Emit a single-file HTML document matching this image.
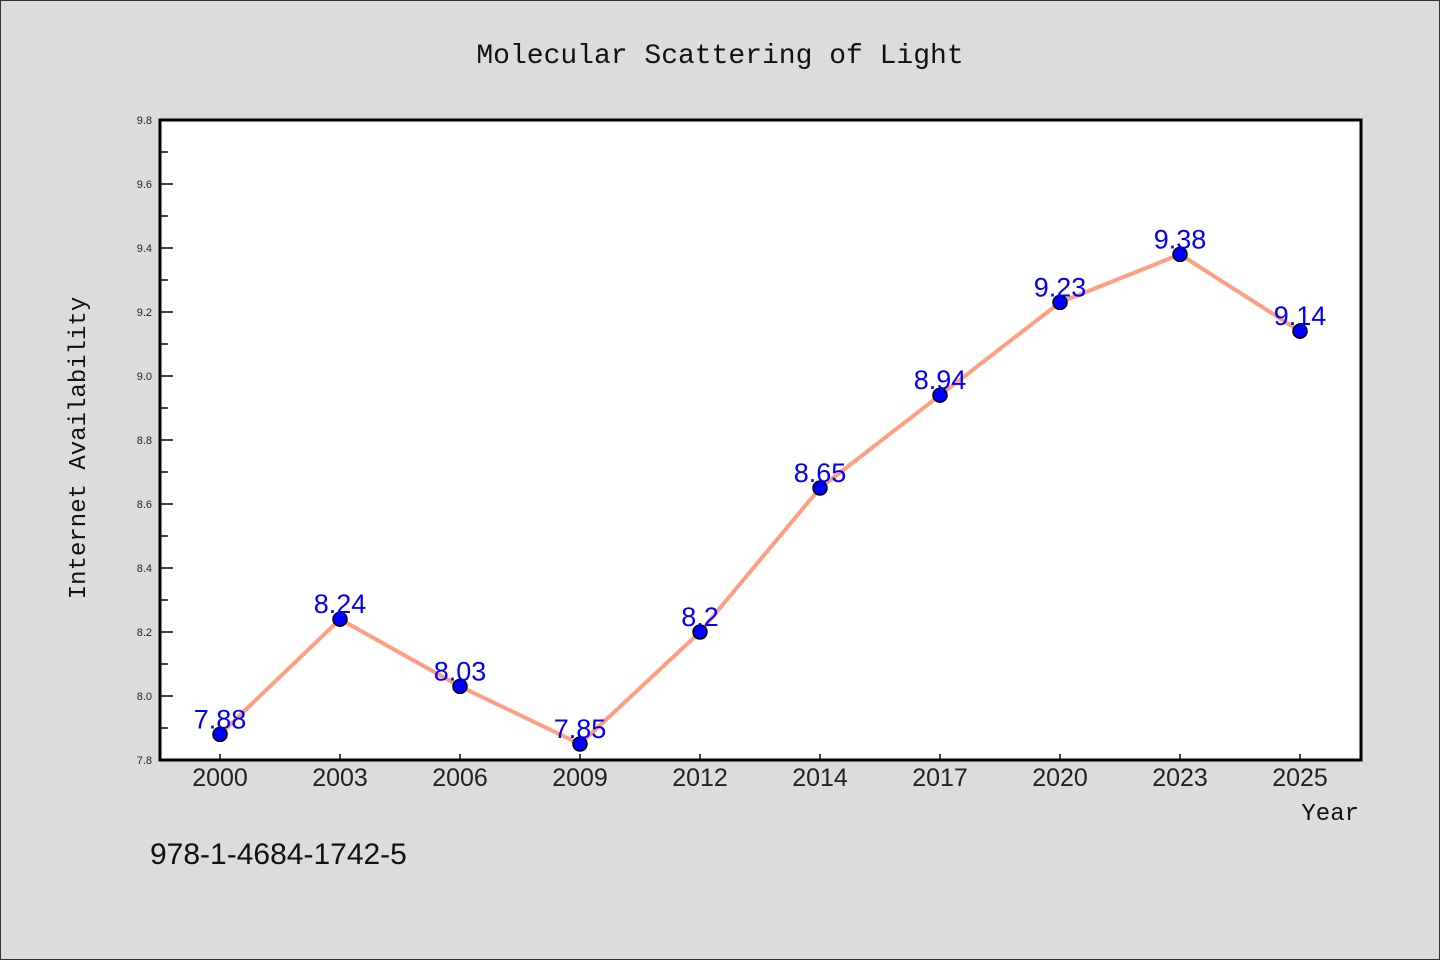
<!DOCTYPE html>
<html><head><meta charset="utf-8"><style>
html,body{margin:0;padding:0;background:#dcdcdc;}
svg{display:block;font-family:"Liberation Mono","DejaVu Sans Mono",monospace;}
</style></head><body>
<svg id="c" width="1440" height="960" viewBox="0 0 1440 960">
<rect x="0.5" y="0.5" width="1439" height="959" fill="#dcdcdc" stroke="#333"/>
<text x="720" y="63" text-anchor="middle" font-size="28" fill="#111">Molecular Scattering of Light</text>
<rect x="160" y="120" width="1201" height="640" fill="#fff"/>
<g id="axes"></g>
<g id="marks"></g>
<rect x="160" y="120" width="1201" height="640" fill="none" stroke="#000" stroke-width="3"/>
<text transform="translate(85,448) rotate(-90)" text-anchor="middle" font-size="24" fill="#111">Internet Availability</text>
<text x="1359" y="820" text-anchor="end" font-size="24" fill="#111">Year</text>
<text x="150" y="864" font-family="Liberation Sans, sans-serif" font-size="30" fill="#111">978-1-4684-1742-5</text>
</svg>
<script>
const categories=["2000","2003","2006","2009","2012","2014","2017","2020","2023","2025"];
const values=[7.88,8.24,8.03,7.85,8.2,8.65,8.94,9.23,9.38,9.14];
const valueLabels=["7.88","8.24","8.03","7.85","8.2","8.65","8.94","9.23","9.38","9.14"];
const yTicks=["7.8","8.0","8.2","8.4","8.6","8.8","9.0","9.2","9.4","9.6","9.8"];
const yMin=7.8,yMax=9.8;
const NS="http://www.w3.org/2000/svg";
const x=i=>220+i*120;
const y=v=>760-(v-yMin)/(yMax-yMin)*640;
function mk(t,a,p){const e=document.createElementNS(NS,t);for(const k in a)e.setAttribute(k,a[k]);p.appendChild(e);return e;}
const axes=document.getElementById('axes'),marks=document.getElementById('marks');
yTicks.forEach((t,i)=>{const v=parseFloat(t),yy=y(v);
const l=mk('line',{x1:160,x2:173,y1:yy,y2:yy,stroke:'#000','stroke-width':1.5},axes);


const tx=mk('text',{x:152,y:yy+4,'text-anchor':'end','font-size':11,fill:'#222','font-family':'Liberation Sans, sans-serif'},axes);tx.textContent=t;


if(i<yTicks.length-1){const ym=y(v+0.1);const m=mk('line',{x1:160,x2:168,y1:ym,y2:ym,stroke:'#000','stroke-width':1.5},axes);

}
});
categories.forEach((c,i)=>{const xx=x(i);
const l=mk('line',{x1:xx,x2:xx,y1:760,y2:754,stroke:'#000','stroke-width':1.5},axes);


const t=mk('text',{x:xx,y:786,'text-anchor':'middle','font-size':25,fill:'#222','font-family':'Liberation Sans, sans-serif'},axes);t.textContent=c;


});
const pl=mk('polyline',{points:values.map((v,i)=>x(i)+','+y(v)).join(' '),fill:'none',stroke:'#ff9f7f','stroke-width':4,'stroke-linejoin':'round'},marks);


values.forEach((v,i)=>{
const c=mk('circle',{cx:x(i),cy:y(v),r:7,fill:'#0000ff',stroke:'#000','stroke-width':1.5},marks);


const t=mk('text',{x:x(i),y:y(v)-6,'text-anchor':'middle','font-size':27,fill:'#0000ff','font-family':'Liberation Sans, sans-serif'},marks);t.textContent=valueLabels[i];


});
</script>
</body></html>
